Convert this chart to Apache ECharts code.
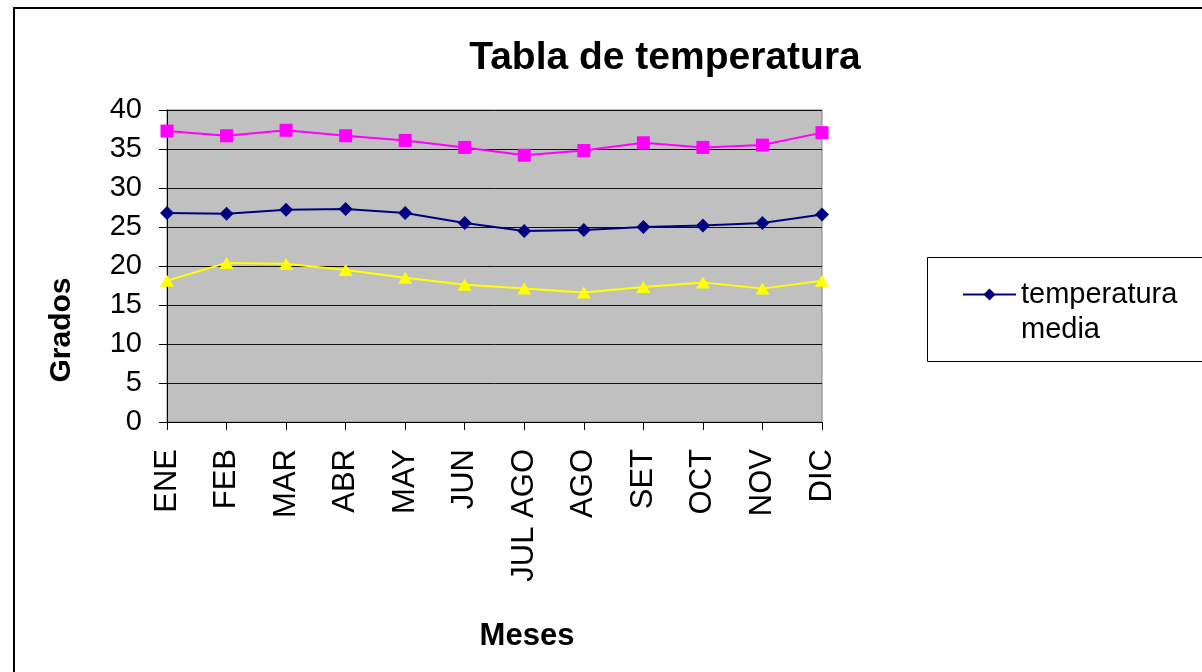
<!DOCTYPE html>
<html>
<head>
<meta charset="utf-8">
<style>
  html, body { margin: 0; padding: 0; background: #ffffff; }
  #chart { width: 1202px; height: 672px; }
</style>
<script src="https://cdn.jsdelivr.net/npm/echarts@6/dist/echarts.min.js"></script>
</head>
<body>
<div id="chart"></div>
<script>
// Meses del año
const meses = ['ENE', 'FEB', 'MAR', 'ABR', 'MAY', 'JUN', 'JUL AGO', 'AGO', 'SET', 'OCT', 'NOV', 'DIC'];
// Temperaturas (grados)
const tempMaxima = [37.3, 36.7, 37.4, 36.7, 36.1, 35.2, 34.2, 34.8, 35.8, 35.2, 35.5, 37.1];
const tempMedia = [26.8, 26.7, 27.2, 27.3, 26.8, 25.5, 24.5, 24.6, 25.0, 25.2, 25.5, 26.6];
const tempMinima = [18.1, 20.4, 20.3, 19.5, 18.5, 17.6, 17.1, 16.6, 17.3, 17.9, 17.1, 18.1];

const FONT = '"Liberation Sans", Arial, sans-serif';

const chart = echarts.init(document.getElementById('chart'), null, { renderer: 'canvas' });

chart.setOption({
  backgroundColor: '#ffffff',
  animation: false,
  textStyle: { fontFamily: FONT, color: '#000' },
  grid: {
    left: 167, top: 110, right: 380, bottom: 250,
    show: true,
    backgroundColor: '#c0c0c0',
    borderColor: '#808080',
    borderWidth: 1
  },
  legend: {
    data: ['temperatura media'],
    left: 962,
    top: 242,
    padding: 0,
    itemWidth: 53,
    itemHeight: 15,
    // blank first line keeps "temperatura" level with the legend marker
    formatter: function (n) { return ' \n' + n.replace(' ', '\n'); },
    textStyle: {
      fontFamily: FONT, fontSize: 29, color: '#000', lineHeight: 35
    }
  },
  xAxis: {
    type: 'category',
    data: meses,
    boundaryGap: false,
    axisLine: { lineStyle: { color: '#000', width: 1 } },
    axisTick: { show: true, length: 8, inside: false, lineStyle: { color: '#000' } },
    axisLabel: {
      rotate: 90, interval: 0, margin: 27,
      fontFamily: FONT, fontSize: 31, color: '#000'
    },
    splitLine: { show: false }
  },
  yAxis: {
    type: 'value',
    min: 0, max: 40, interval: 5,
    axisLine: { show: true, lineStyle: { color: '#000', width: 1 } },
    axisTick: { show: true, length: 8, inside: false, lineStyle: { color: '#000' } },
    axisLabel: { margin: 25, fontFamily: FONT, fontSize: 29, color: '#000' },
    splitLine: { show: true, lineStyle: { color: '#111', width: 1 } }
  },
  graphic: [
    {
      type: 'rect', silent: true, z: -1,
      shape: { x: 14, y: 8, width: 1300, height: 800 },
      style: { fill: 'none', stroke: '#000', lineWidth: 2 }
    },
    {
      type: 'rect', silent: true,
      shape: { x: 927.5, y: 257.5, width: 300, height: 104 },
      style: { fill: 'none', stroke: '#000', lineWidth: 1 }
    },
    {
      type: 'text', silent: true,
      x: 665, y: 58,
      style: {
        text: 'Tabla de temperatura',
        font: 'bold 39px ' + FONT,
        fill: '#000', align: 'center', verticalAlign: 'middle'
      }
    },
    {
      type: 'text', silent: true,
      x: 62, y: 330, rotation: Math.PI / 2,
      style: {
        text: 'Grados',
        font: 'bold 30px ' + FONT,
        fill: '#000', align: 'center', verticalAlign: 'middle'
      }
    },
    {
      type: 'text', silent: true,
      x: 527, y: 636,
      style: {
        text: 'Meses',
        font: 'bold 31px ' + FONT,
        fill: '#000', align: 'center', verticalAlign: 'middle'
      }
    }
  ],
  series: [
    {
      name: 'temperatura máxima',
      type: 'line',
      data: tempMaxima,
      symbol: 'rect',
      symbolSize: 13,
      lineStyle: { color: '#ff00ff', width: 2 },
      itemStyle: { color: '#ff00ff' }
    },
    {
      name: 'temperatura media',
      type: 'line',
      data: tempMedia,
      symbol: 'diamond',
      symbolSize: [14, 14],
      lineStyle: { color: '#000080', width: 2 },
      itemStyle: { color: '#000080' }
    },
    {
      name: 'temperatura mínima',
      type: 'line',
      data: tempMinima,
      symbol: 'triangle',
      symbolSize: [14, 12],
      lineStyle: { color: '#ffff00', width: 2 },
      itemStyle: { color: '#ffff00' }
    }
  ]
});
</script>
</body>
</html>
